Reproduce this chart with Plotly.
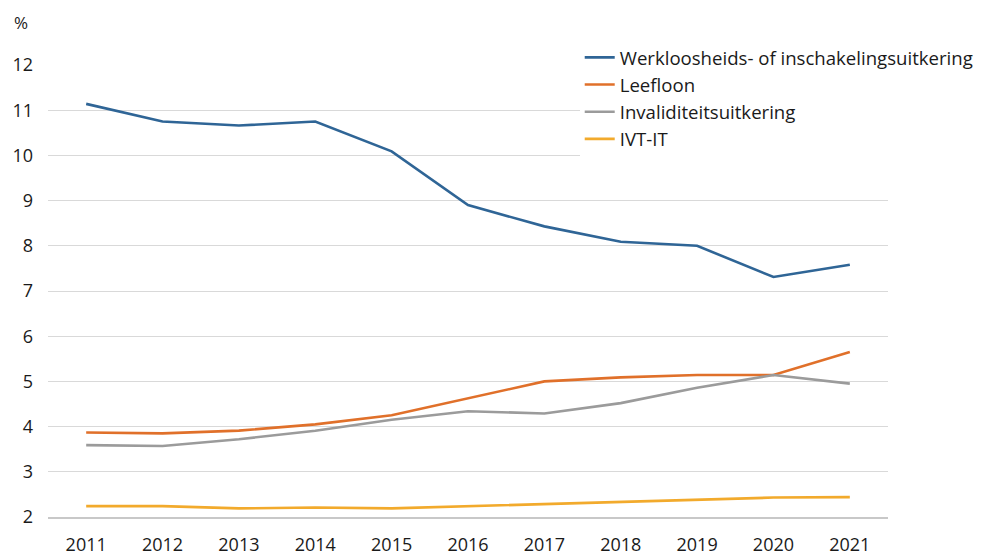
import plotly.graph_objs as go

years = ['2011', '2012', '2013', '2014', '2015', '2016', '2017', '2018', '2019', '2020', '2021']
werkloosheid = [11.14, 10.75, 10.66, 10.75, 10.09, 8.90, 8.43, 8.09, 8.00, 7.31, 7.58]
leefloon = [3.87, 3.85, 3.91, 4.05, 4.25, 4.63, 5.00, 5.09, 5.14, 5.14, 5.65]
invaliditeit = [3.59, 3.57, 3.72, 3.91, 4.15, 4.34, 4.29, 4.52, 4.86, 5.14, 4.95]
ivt_it = [2.24, 2.24, 2.19, 2.21, 2.19, 2.24, 2.29, 2.34, 2.39, 2.43, 2.44]

series = [
    ('Werkloosheids- of inschakelingsuitkering', werkloosheid, '#2F6596'),
    ('Leefloon', leefloon, '#E0702A'),
    ('Invaliditeitsuitkering', invaliditeit, '#9B9B9B'),
    ('IVT-IT', ivt_it, '#F2AA2C'),
]

font_family = 'Open Sans, sans-serif'

fig = go.Figure()
for name, values, color in series:
    fig.add_trace(go.Scatter(x=years, y=values, name=name, mode='lines',
                             line=dict(color=color, width=2.6)))

# the page adds ~8px body margin, so the margins are shifted to compensate
fig.update_layout(
    width=983, height=554,
    margin=dict(l=40, r=101, t=57, b=45),
    plot_bgcolor='white', paper_bgcolor='white',
    font=dict(family=font_family, size=18, color='#1a1a1a'),
    showlegend=True,
    legend=dict(x=0.633, y=1.058, xanchor='left', yanchor='top',
                bgcolor='white', font=dict(size=18.6), tracegroupgap=0,
                itemwidth=30),
    annotations=[dict(text='%', xref='paper', yref='paper', x=-0.043, y=1.095,
                      xanchor='left', yanchor='middle', showarrow=False,
                      font=dict(size=17))],
)
fig.update_xaxes(type='category', range=[-0.5, 10.5], showgrid=False,
                 showline=True, linecolor='#c8c8c8', linewidth=2,
                 ticks='', ticklabelstandoff=10, automargin=False)
fig.update_yaxes(range=[2, 12], dtick=1, showgrid=True, gridcolor='#d9d9d9',
                 gridwidth=1, zeroline=False, ticks='', ticklabelstandoff=14,
                 automargin=False)

fig.write_html('out.html')
